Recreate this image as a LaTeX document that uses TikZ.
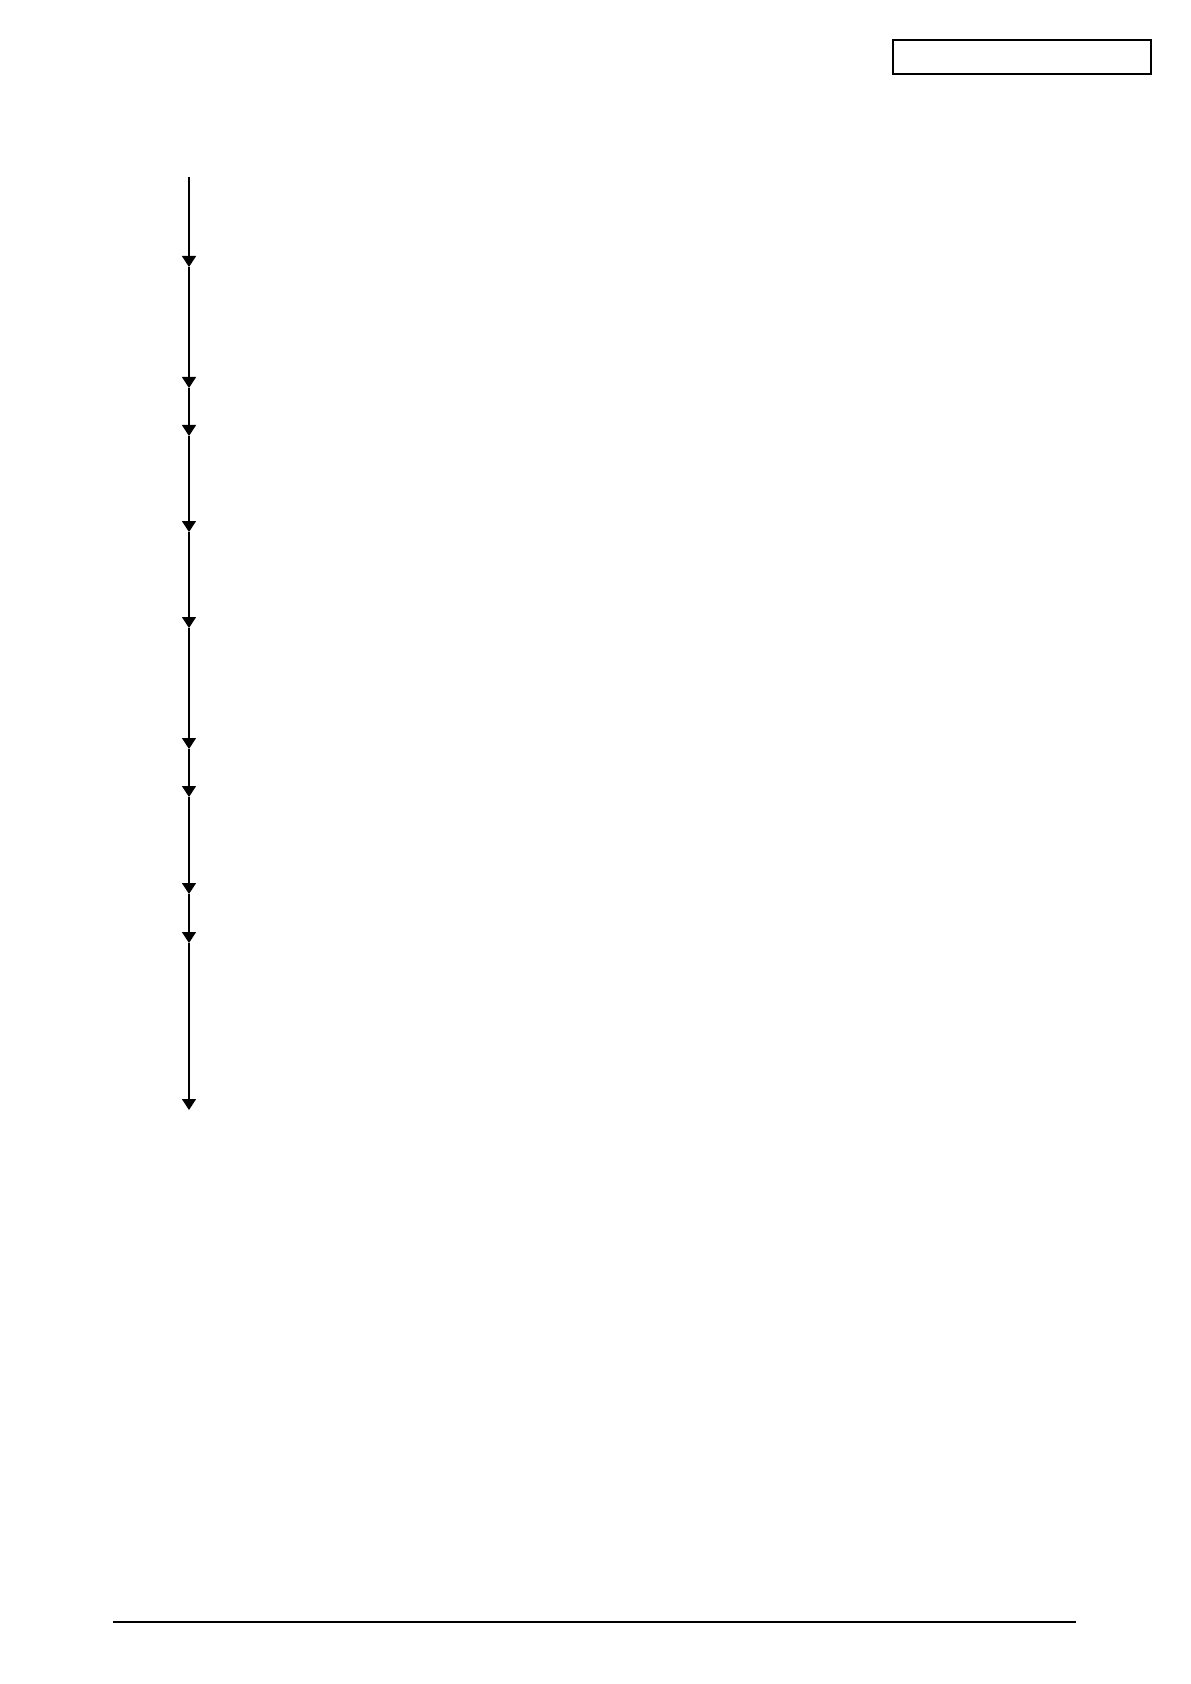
\documentclass[tikz,border=0pt]{standalone}
\usetikzlibrary{arrows.meta}
\begin{document}
\begin{tikzpicture}[x=0.5pt,y=-0.5pt,
  flow/.style={line width=0.65pt,-{Triangle[width=7pt,length=5.5pt]}},
  frame/.style={draw,line width=0.75pt,inner sep=0pt,minimum width=129pt,minimum height=17pt},
  rule/.style={line width=0.75pt}]
\useasboundingbox (0,0) rectangle (1190,1684);
\node[frame] (hdr) at (1022,57) {};
\coordinate (p0) at (189,177);
\coordinate (p1) at (189,267);
\coordinate (p2) at (189,388);
\coordinate (p3) at (189,436);
\coordinate (p4) at (189,532);
\coordinate (p5) at (189,628);
\coordinate (p6) at (189,749);
\coordinate (p7) at (189,797);
\coordinate (p8) at (189,894);
\coordinate (p9) at (189,943);
\coordinate (p10) at (189,1110);
\draw[flow] (p0) -- (p1);
\draw[flow] (p1) -- (p2);
\draw[flow] (p2) -- (p3);
\draw[flow] (p3) -- (p4);
\draw[flow] (p4) -- (p5);
\draw[flow] (p5) -- (p6);
\draw[flow] (p6) -- (p7);
\draw[flow] (p7) -- (p8);
\draw[flow] (p8) -- (p9);
\draw[flow] (p9) -- (p10);
\coordinate (r0) at (113,1622);
\coordinate (r1) at (1076,1622);
\draw[rule] (r0) -- (r1);
\end{tikzpicture}
\end{document}
